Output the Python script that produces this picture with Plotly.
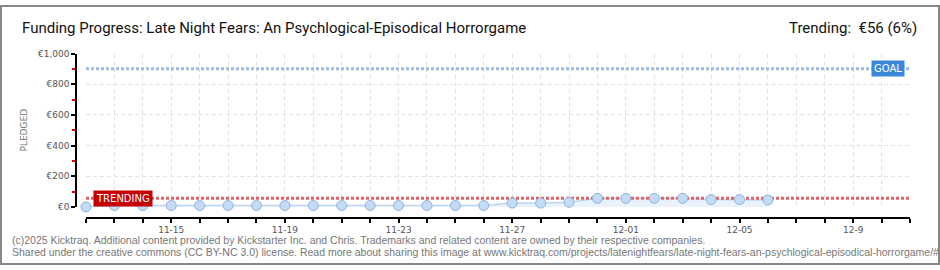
import plotly.graph_objects as go

# ---- data ----
dates = ["2025-11-12", "2025-11-13", "2025-11-14", "2025-11-15", "2025-11-16",
         "2025-11-17", "2025-11-18", "2025-11-19", "2025-11-20", "2025-11-21",
         "2025-11-22", "2025-11-23", "2025-11-24", "2025-11-25", "2025-11-26",
         "2025-11-27", "2025-11-28", "2025-11-29", "2025-11-30", "2025-12-01",
         "2025-12-02", "2025-12-03", "2025-12-04", "2025-12-05", "2025-12-06"]
pledged = [0, 9, 9, 9, 9, 9, 9, 9, 9, 9, 9, 9, 9, 9, 9,
           25, 25, 30, 56, 56, 56, 56, 48, 48, 45]
goal = 900
trending = 56
axis_start = "2025-11-12"
axis_end = "2025-12-11"
tick_days = ["2025-11-%02d" % d for d in range(12, 31)] + ["2025-12-%02d" % d for d in range(1, 12)]
label_map = {"2025-11-15": "11-15", "2025-11-19": "11-19", "2025-11-23": "11-23",
             "2025-11-27": "11-27", "2025-12-01": "12-01", "2025-12-05": "12-05",
             "2025-12-09": "12-9"}
tick_text = [label_map.get(d, "") for d in tick_days]
y_ticks = [0, 200, 400, 600, 800, 1000]
y_tick_text = ["€0", "€200", "€400", "€600", "€800", "€1,000"]

W, H = 940, 270
def px(x):
    return x / W
def py(y):
    return (H - y) / H

fig = go.Figure()

# area + line
fig.add_trace(go.Scatter(x=dates, y=pledged, mode="lines", fill="tozeroy",
                         fillcolor="#eaf3fd", line=dict(color="#bcd6f2", width=1.5),
                         hoverinfo="skip", showlegend=False, cliponaxis=False))
# goal line
fig.add_trace(go.Scatter(x=[axis_start, axis_end], y=[goal, goal], mode="lines",
                         line=dict(color="#98bce6", width=3, dash="3px,2px"),
                         showlegend=False, cliponaxis=False))
# trending line
fig.add_trace(go.Scatter(x=[axis_start, axis_end], y=[trending, trending], mode="lines",
                         line=dict(color="#e06464", width=3, dash="3px,2px"),
                         showlegend=False, cliponaxis=False))
# markers
fig.add_trace(go.Scatter(x=dates, y=pledged, mode="markers",
                         marker=dict(size=10, color="#c4dbf5", line=dict(color="#8fb2dc", width=1)),
                         showlegend=False, cliponaxis=False))

tick_font = dict(family="DejaVu Sans", size=9, color="#555555")

fig.update_layout(
    width=W, height=H, margin=dict(l=0, r=0, t=0, b=0),
    paper_bgcolor="white", plot_bgcolor="white",
    xaxis=dict(type="date", domain=[px(86), px(910)], range=[axis_start, axis_end],
               anchor="free", position=py(221),
               tickvals=tick_days, ticktext=tick_text, tickangle=0,
               ticks="outside", ticklen=4, tickcolor="black", tickwidth=1.5,
               showline=True, linecolor="black", linewidth=1.5,
               showgrid=True, gridcolor="#e3e3e3", griddash="4px,3px", gridwidth=1,
               zeroline=False, tickfont=tick_font),
    yaxis=dict(domain=[py(209.7), py(50.4)], range=[0, 1000],
               anchor="free", position=px(76),
               tickvals=y_ticks, ticktext=y_tick_text,
               ticks="outside", ticklen=4, tickcolor="black", tickwidth=1.5,
               minor=dict(tickvals=[100, 300, 500, 700, 900], ticks="outside", ticklen=3,
                          tickcolor="#e00000", tickwidth=1.5, showgrid=False),
               showline=True, linecolor="black", linewidth=1.5,
               showgrid=True, gridcolor="#e3e3e3", griddash="4px,3px", gridwidth=1,
               zeroline=False, tickfont=tick_font,
               title=dict(text="PLEDGED", font=dict(family="DejaVu Sans", size=9, color="#777777"),
                          standoff=8)),
)

annotations = [
    dict(text="Funding Progress: Late Night Fears: An Psychlogical-Episodical Horrorgame",
         xref="paper", yref="paper", x=px(20), y=py(24), xanchor="left", yanchor="middle",
         showarrow=False, font=dict(family="Roboto", size=15, color="#111111")),
    dict(text="Trending:  €56 (6%)",
         xref="paper", yref="paper", x=px(919), y=py(24), xanchor="right", yanchor="middle",
         showarrow=False, font=dict(family="Roboto", size=15, color="#111111")),
    dict(text="(c)2025 Kicktraq. Additional content provided by Kickstarter Inc. and Chris. Trademarks and related content are owned by their respective companies.",
         xref="paper", yref="paper", x=px(10), y=py(244), xanchor="left", yanchor="middle",
         showarrow=False, font=dict(family="Liberation Sans", size=10.5, color="#777777")),
    dict(text="Shared under the creative commons (CC BY-NC 3.0) license. Read more about sharing this image at www.kicktraq.com/projects/latenightfears/late-night-fears-an-psychlogical-episodical-horrorgame/#",
         xref="paper", yref="paper", x=px(10), y=py(257), xanchor="left", yanchor="middle",
         showarrow=False, font=dict(family="Liberation Sans", size=10.5, color="#777777")),
    dict(text="TRENDING", xref="paper", yref="y", x=px(93), y=trending,
         xanchor="left", yanchor="middle", showarrow=False,
         bgcolor="#c40000", borderpad=2, font=dict(family="DejaVu Sans", size=10, color="white")),
    dict(text="GOAL", xref="paper", yref="y", x=px(905), y=goal,
         xanchor="right", yanchor="middle", showarrow=False,
         bgcolor="#3b88d8", borderpad=2, font=dict(family="DejaVu Sans", size=10, color="white")),
]
fig.update_layout(annotations=annotations)

fig.add_shape(type="rect", xref="paper", yref="paper", x0=px(1), y0=py(269), x1=px(939), y1=py(1),
              line=dict(color="#888888", width=2))

fig.write_html("out.html")
